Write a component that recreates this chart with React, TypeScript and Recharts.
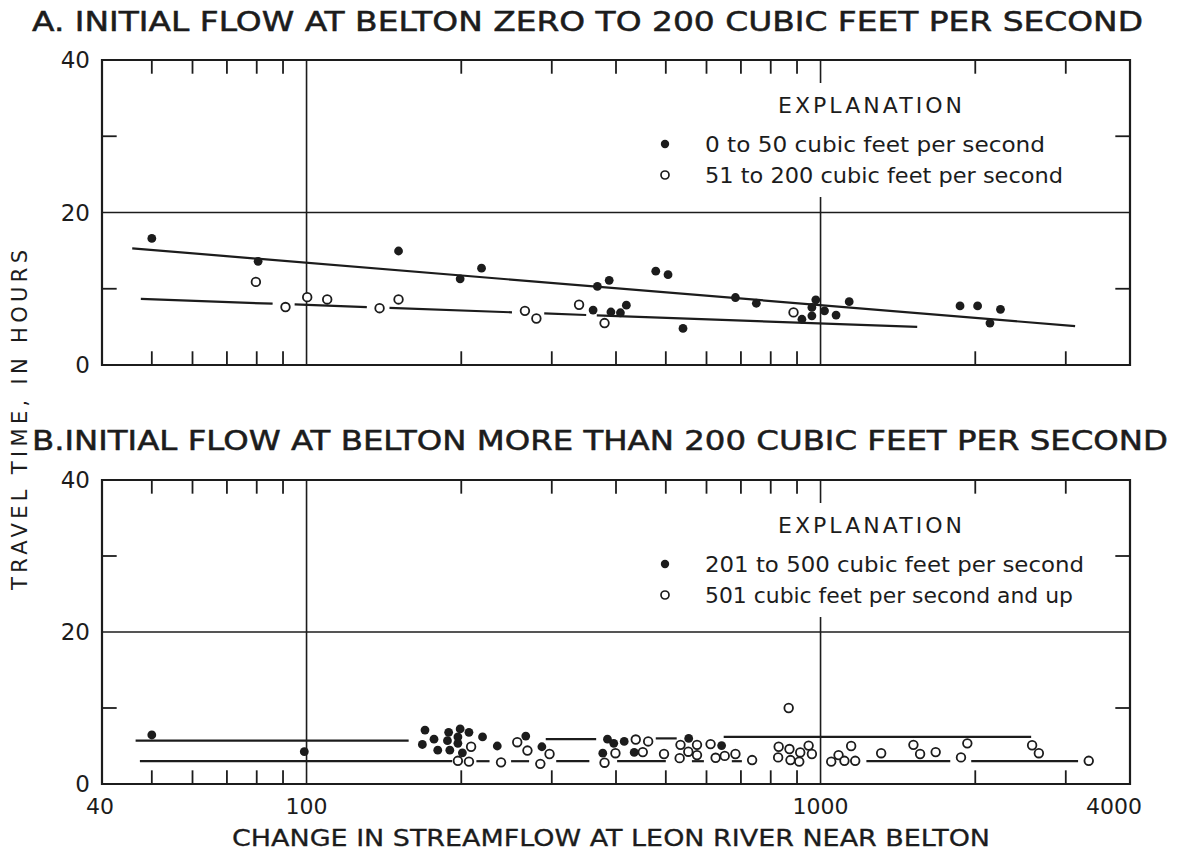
import { ScatterChart, Scatter, XAxis, YAxis, ReferenceLine, ReferenceArea } from "recharts";

type Pt = [number, number];

// change in streamflow (cfs) vs travel time (hours)
// A: initial flow 0 to 50 cfs
const flowA0to50: Pt[] = [
  [50, 16.6], [80.5, 13.6], [151, 14.95], [199, 11.3], [219, 12.7], [368, 10.3],
  [388, 11.1], [361, 7.2], [391, 6.95], [408, 6.85], [419, 7.85], [478, 12.3],
  [505, 11.85], [540, 4.8], [683, 8.85], [750, 8.1], [920, 6.0], [962, 6.45],
  [962, 7.55], [979, 8.55], [1018, 7.1], [1072, 6.55], [1137, 8.3], [1868, 7.75],
  [2021, 7.75], [2239, 7.3], [2136, 5.5],
];
// A: initial flow 51 to 200 cfs
const flowA51to200: Pt[] = [
  [79.7, 10.9], [91, 7.6], [100.3, 8.9], [109.7, 8.6], [138.7, 7.45], [151, 8.6],
  [266, 7.1], [280, 6.1], [339, 7.9], [380, 5.5], [886, 6.9],
];
// B: initial flow 201 to 500 cfs
const flowB201to500: Pt[] = [
  [50, 6.45], [99, 4.25], [170, 7.1], [168, 5.2], [177, 5.9], [180, 4.45], [189, 6.8],
  [188, 5.7], [190, 4.45], [199, 7.25], [197, 6.2], [197, 5.35], [207, 6.8], [201, 4.1],
  [220, 6.2], [235, 5.0], [267, 6.3], [287, 4.9], [385, 5.9], [396, 5.35], [415, 5.6],
  [377, 4.05], [434, 4.15], [554, 6.0], [642, 5.05],
];
// B: initial flow 501 cfs and up
const flowB501up: Pt[] = [
  [209, 4.9], [197, 3.05], [207, 2.95], [239, 2.85], [257, 5.5], [269, 4.4], [297, 3.95],
  [285, 2.65], [399, 4.05], [380, 2.8], [437, 5.85], [462, 5.6], [451, 4.2], [496, 3.95],
  [534, 5.15], [553, 4.25], [575, 5.15], [575, 3.8], [532, 3.4], [611, 5.25], [625, 3.45],
  [651, 3.7], [683, 3.95], [736, 3.15], [867, 10.0], [829, 4.9], [870, 4.6], [827, 3.5],
  [874, 3.15], [913, 4.15], [948, 5.05], [962, 3.95], [909, 2.95], [1049, 2.95],
  [1084, 3.8], [1113, 3.05], [1147, 5.0], [1168, 3.05], [1312, 4.05], [1516, 5.15],
  [1562, 3.95], [1675, 4.2], [1876, 3.5], [1930, 5.35], [2580, 5.1], [2659, 4.05],
  [3325, 3.05],
];

// fitted curves, drawn as pen strokes (broken where they pass the symbols)
const fitA0to50: Pt[][] = [[[45.8, 15.3], [3128, 5.1]]];
const fitA51to200: Pt[][] = [
  [[47.6, 8.66], [85.9, 8.04]],
  [[94.8, 7.94], [131, 7.6]],
  [[145, 7.49], [251, 6.91]],
  [[290, 6.76], [350, 6.56]],
  [[367, 6.51], [1542, 5.0]],
];
const fitB201to500: Pt[][] = [
  [[46.5, 5.7], [158, 5.7]],
  [[292, 5.9], [366, 5.9]],
  [[478, 6.0], [525, 6.0]],
  [[648, 6.2], [2569, 6.2]],
];
const fitB501up: Pt[][] = [
  [[47.4, 3.0], [192, 3.0]],
  [[214, 3.0], [227, 3.0]],
  [[250, 3.0], [271, 3.0]],
  [[306, 3.0], [355, 3.0]],
  [[402, 3.0], [500, 3.0]],
  [[562, 3.0], [593, 3.0]],
  [[672, 3.0], [703, 3.0]],
  [[1228, 3.0], [1788, 3.0]],
  [[1964, 3.0], [3170, 3.0]],
];

// log cycles: short inside ticks, labels only at the ends and decades
const X_MINOR = [50, 60, 70, 80, 90, 200, 300, 400, 500, 600, 700, 800, 900, 2000, 3000];
const X_LABELS = [40, 100, 1000, 4000];
const X_GRID = [100, 1000];
const Y_MINOR = [10, 30];
const Y_LABELS = [0, 20, 40];
const Y_GRID = [20];
const X_DOMAIN: [number, number] = [40, 4000];
const Y_DOMAIN: [number, number] = [0, 40];

const INK = "#1c1c1c";
const SANS = '"DejaVu Sans", "Open Sans", sans-serif';
const W = 1183;
// inside tick length, in axis units (hours / log factor)
const TICK_Y = 1.8;
const TICK_X = 1.068;

const toXY = (pts: Pt[]) => pts.map(([x, y]) => ({ x, y }));

const Dot = (p: any) => <circle cx={p.cx} cy={p.cy} r={4.4} fill={INK} />;
const Ring = (p: any) => (
  <circle cx={p.cx} cy={p.cy} r={4.3} fill="#fff" stroke={INK} strokeWidth={1.8} />
);

function xLabel(props: any) {
  const { x, y, payload } = props;
  const v = payload.value;
  const dx = v === 4000 ? -16 : v === 40 ? -2 : 0;
  return (
    <text x={x + dx} y={y + 30} textAnchor="middle" fontFamily={SANS} fontSize={22} fill={INK}>
      {v}
    </text>
  );
}

function yLabel(props: any) {
  const { x, y, payload } = props;
  return (
    <text x={x - 12} y={y + 8} textAnchor="end" fontFamily={SANS} fontSize={23} fill={INK}>
      {payload.value}
    </text>
  );
}

// tick marks pointing into the frame on all four sides
function tickSegments(): Pt[][] {
  const [x0, x1] = X_DOMAIN;
  const [y0, y1] = Y_DOMAIN;
  const segs: Pt[][] = [];
  X_MINOR.forEach((v) => {
    segs.push([[v, y0], [v, y0 + TICK_Y]]);
    segs.push([[v, y1 - TICK_Y], [v, y1]]);
  });
  Y_MINOR.forEach((v) => {
    segs.push([[x0, v], [x0 * TICK_X, v]]);
    segs.push([[x1 / TICK_X, v], [x1, v]]);
  });
  return segs;
}

type PanelProps = {
  top: number;
  height: number;
  marginTop: number;
  axisH: number;
  labels: boolean;
  filled: Pt[];
  open: Pt[];
  fitFilled: Pt[][];
  fitOpen: Pt[][];
};

function Panel({ top, height, marginTop, axisH, labels, filled, open, fitFilled, fitOpen }: PanelProps) {
  return (
    <div style={{ position: "absolute", left: 0, top }}>
      <ScatterChart width={W} height={height} margin={{ top: marginTop, right: 53, bottom: 0, left: 0 }}>
        <XAxis
          type="number"
          dataKey="x"
          scale="log"
          domain={X_DOMAIN}
          ticks={X_LABELS}
          interval={0}
          height={axisH}
          axisLine={false}
          tickLine={false}
          tickSize={0}
          tickMargin={0}
          allowDataOverflow
          tick={labels ? xLabel : false}
        />
        <YAxis
          type="number"
          dataKey="y"
          domain={Y_DOMAIN}
          ticks={Y_LABELS}
          interval={0}
          width={102}
          axisLine={false}
          tickLine={false}
          tickSize={0}
          tickMargin={0}
          tick={yLabel}
        />
        <ReferenceArea x1={X_DOMAIN[0]} x2={X_DOMAIN[1]} y1={Y_DOMAIN[0]} y2={Y_DOMAIN[1]} fill="none" stroke={INK} strokeWidth={2.2} />
        {Y_GRID.map((v) => (
          <ReferenceLine key={`h${v}`} y={v} stroke={INK} strokeWidth={1.6} />
        ))}
        {X_GRID.map((v) => (
          <ReferenceLine key={`v${v}`} x={v} stroke={INK} strokeWidth={1.6} />
        ))}
        {tickSegments().map((seg, i) => (
          <ReferenceLine
            key={`t${i}`}
            segment={[{ x: seg[0][0], y: seg[0][1] }, { x: seg[1][0], y: seg[1][1] }]}
            stroke={INK}
            strokeWidth={1.8}
          />
        ))}
        {[...fitFilled, ...fitOpen].map((seg, i) => (
          <ReferenceLine
            key={`f${i}`}
            segment={[{ x: seg[0][0], y: seg[0][1] }, { x: seg[1][0], y: seg[1][1] }]}
            stroke={INK}
            strokeWidth={2.2}
          />
        ))}
        <Scatter data={toXY(open)} shape={Ring} isAnimationActive={false} />
        <Scatter data={toXY(filled)} shape={Dot} isAnimationActive={false} />
      </ScatterChart>
    </div>
  );
}

function Legend({ y, first, second, w1, w2 }: { y: number; first: string; second: string; w1: number; w2: number }) {
  return (
    <g fontFamily={SANS} fill={INK}>
      <rect x={648} y={y} width={452} height={114} fill="#fff" />
      <text x={778} y={y + 30} fontSize={22} textLength={184} lengthAdjust="spacing">
        EXPLANATION
      </text>
      <circle cx={665} cy={y + 61} r={4.2} fill={INK} />
      <text x={705} y={y + 69} fontSize={22} textLength={w1} lengthAdjust="spacingAndGlyphs">
        {first}
      </text>
      <circle cx={665} cy={y + 92} r={4} fill="#fff" stroke={INK} strokeWidth={1.7} />
      <text x={705} y={y + 100} fontSize={22} textLength={w2} lengthAdjust="spacingAndGlyphs">
        {second}
      </text>
    </g>
  );
}

export default function App() {
  return (
    <div style={{ position: "absolute", left: 0, top: 0, width: W, height: 854, background: "#fff", overflow: "hidden" }}>
      <Panel
        top={0}
        height={400}
        marginTop={60}
        axisH={35}
        labels={false}
        filled={flowA0to50}
        open={flowA51to200}
        fitFilled={fitA0to50}
        fitOpen={fitA51to200}
      />
      <Panel
        top={440}
        height={414}
        marginTop={40}
        axisH={70}
        labels
        filled={flowB201to500}
        open={flowB501up}
        fitFilled={fitB201to500}
        fitOpen={fitB501up}
      />
      <svg width={W} height={854} style={{ position: "absolute", left: 0, top: 0, pointerEvents: "none" }}>
        <g fontFamily={SANS} fill={INK} stroke={INK} strokeWidth={0.5}>
          <text x={32} y={31} fontSize={26} textLength={1111} lengthAdjust="spacingAndGlyphs">
            A. INITIAL FLOW AT BELTON ZERO TO 200 CUBIC FEET PER SECOND
          </text>
          <text x={32} y={450} fontSize={26} textLength={1136} lengthAdjust="spacingAndGlyphs">
            B.INITIAL FLOW AT BELTON MORE THAN 200 CUBIC FEET PER SECOND
          </text>
        </g>
        <g fontFamily={SANS} fill={INK} stroke={INK} strokeWidth={0.3}>
          <text x={232} y={846} fontSize={23} textLength={758} lengthAdjust="spacingAndGlyphs">
            CHANGE IN STREAMFLOW AT LEON RIVER NEAR BELTON
          </text>
        </g>
        <text
          x={27}
          y={420}
          transform="rotate(-90 27 420)"
          textAnchor="middle"
          fontFamily={SANS}
          fontSize={21}
          fill={INK}
          textLength={340}
          lengthAdjust="spacing"
        >
          TRAVEL TIME, IN HOURS
        </text>
        <Legend y={83} first="0 to 50 cubic feet per second" second="51 to 200 cubic feet per second" w1={340} w2={358} />
        <Legend y={503} first="201 to 500 cubic feet per second" second="501 cubic feet per second and up" w1={379} w2={368} />
      </svg>
    </div>
  );
}
